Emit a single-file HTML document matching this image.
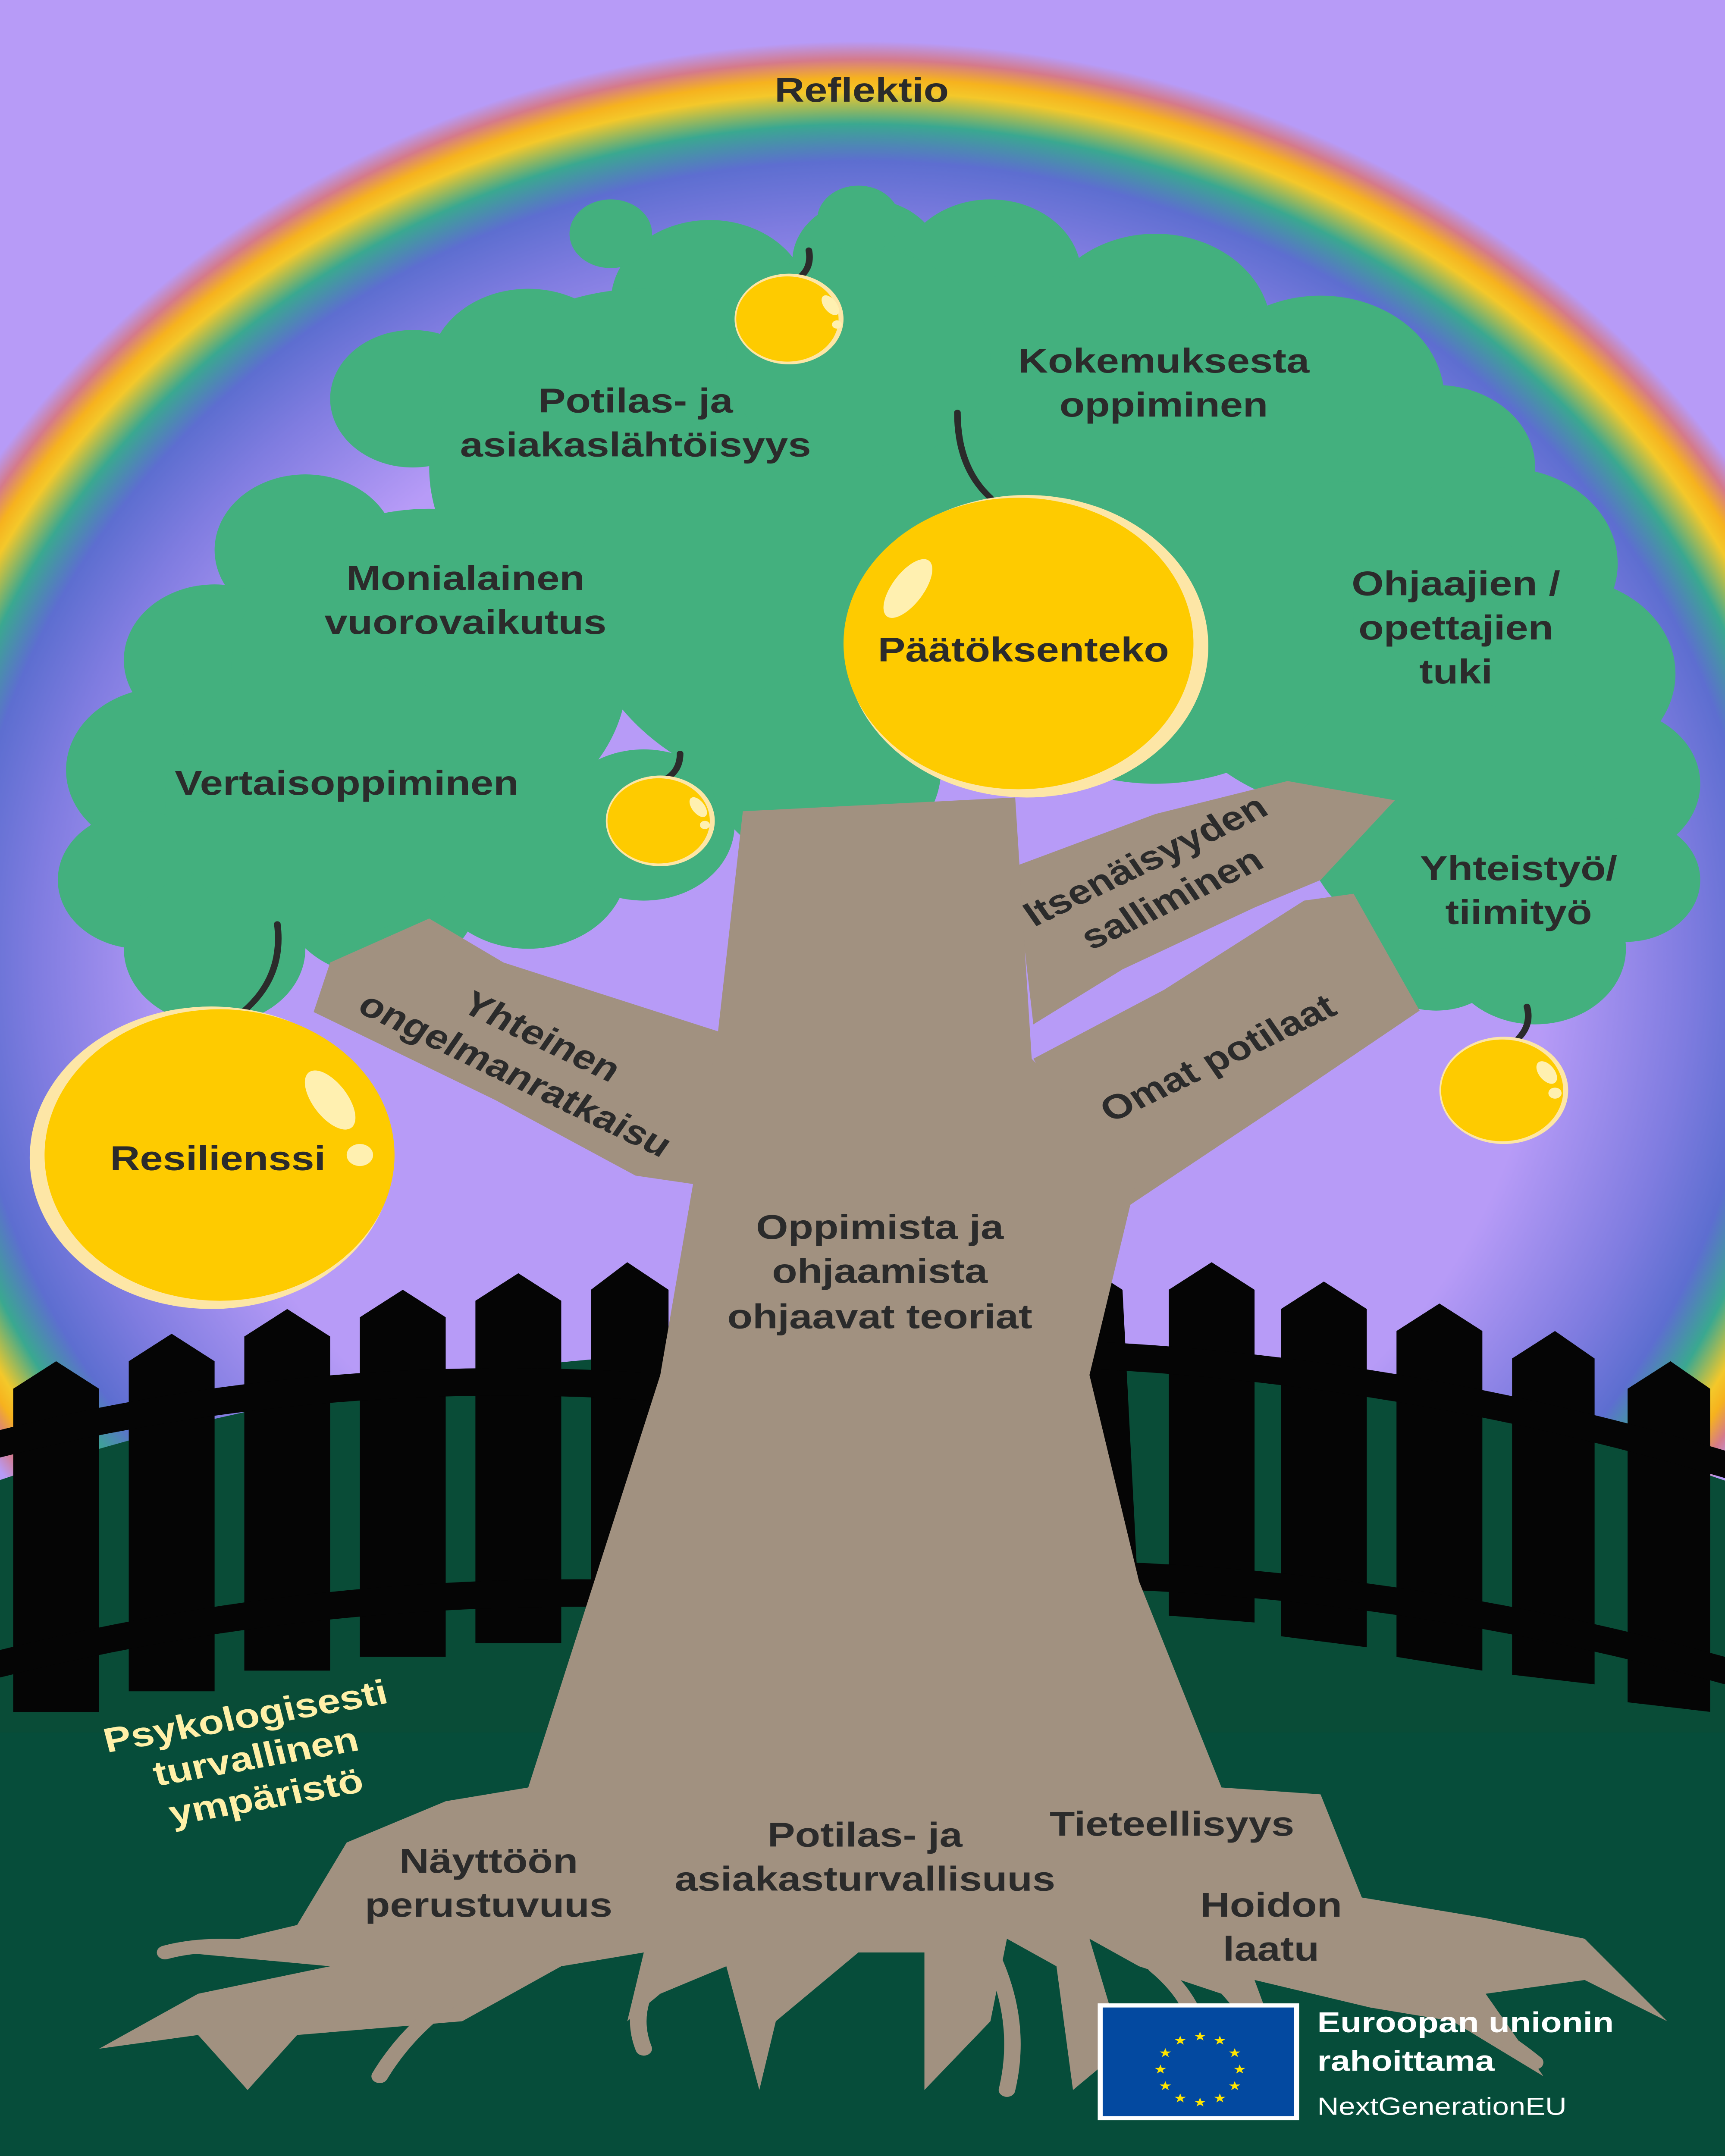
<!DOCTYPE html>
<html><head><meta charset="utf-8"><style>
html,body{margin:0;padding:0;background:#b79bf7;overflow:hidden;width:100%;height:100%}
svg{display:block;position:absolute;left:0;top:0;width:100vw;height:100vh}
text{font-family:"Liberation Sans",sans-serif;font-weight:bold;fill:#2b2b2b}
</style></head><body>
<svg viewBox="0 0 1045 1568" preserveAspectRatio="none" xmlns="http://www.w3.org/2000/svg">
<defs>
<radialGradient id="rb" gradientUnits="userSpaceOnUse" cx="522" cy="700" r="670" gradientTransform="translate(522 700) scale(0.934 1) translate(-522 -700)">
<stop offset="0" stop-color="#b79bf7"/>
<stop offset="0.66" stop-color="#b79bf7"/>
<stop offset="0.80" stop-color="#7f7ce0"/>
<stop offset="0.87" stop-color="#5d6ed0"/>
<stop offset="0.91" stop-color="#3aa890"/>
<stop offset="0.945" stop-color="#f4c82a"/>
<stop offset="0.96" stop-color="#f6b21e"/>
<stop offset="0.98" stop-color="#d57a8a"/>
<stop offset="1" stop-color="#b79bf7"/>
</radialGradient>
</defs>
<rect width="1045" height="1568" fill="url(#rb)"/>
<ellipse cx="522" cy="1500" rx="900" ry="520" fill="#094c37"/>
<rect x="0" y="1260" width="1045" height="308" fill="#064d3a"/>
<g fill="#050505">
<path d="M8,1010 L34,990 L60,1010 L60,1245 L8,1245Z"/>
<path d="M78,990 L104,970 L130,990 L130,1230 L78,1230Z"/>
<path d="M148,972 L174,952 L200,972 L200,1215 L148,1215Z"/>
<path d="M218,958 L244,938 L270,958 L270,1205 L218,1205Z"/>
<path d="M288,946 L314,926 L340,946 L340,1195 L288,1195Z"/>
<path d="M358,938 L380,918 L405,938 L405,1190 L358,1190Z"/>
<path d="M650,915 L680,938 L690,1170 L650,1160Z"/>
<path d="M708,938 L734,918 L760,938 L760,1180 L708,1175Z"/>
<path d="M776,952 L802,932 L828,952 L828,1198 L776,1190Z"/>
<path d="M846,968 L872,948 L898,968 L898,1215 L846,1205Z"/>
<path d="M916,988 L942,968 L966,988 L966,1225 L916,1218Z"/>
<path d="M986,1010 L1012,990 L1036,1010 L1036,1245 L986,1238Z"/>
<path d="M0,1040 Q200,980 410,1000 L410,1020 Q200,1000 0,1060Z"/>
<path d="M0,1200 Q200,1140 410,1150 L410,1170 Q200,1160 0,1220Z"/>
<path d="M650,975 Q850,985 1045,1055 L1045,1075 Q850,1005 650,995Z"/>
<path d="M650,1135 Q850,1140 1045,1205 L1045,1225 Q850,1160 650,1155Z"/>
</g>
<g fill="#43b07e">
<circle cx="250" cy="290" r="50"/><circle cx="320" cy="270" r="60"/><circle cx="430" cy="220" r="60"/>
<circle cx="525" cy="190" r="45"/><circle cx="600" cy="200" r="55"/><circle cx="700" cy="240" r="70"/>
<circle cx="800" cy="290" r="75"/><circle cx="870" cy="340" r="60"/><circle cx="910" cy="410" r="70"/>
<circle cx="945" cy="490" r="70"/><circle cx="975" cy="570" r="55"/><circle cx="985" cy="640" r="45"/>
<circle cx="930" cy="690" r="55"/><circle cx="870" cy="690" r="45"/><circle cx="185" cy="400" r="55"/>
<circle cx="130" cy="480" r="55"/><circle cx="100" cy="560" r="60"/><circle cx="85" cy="640" r="50"/>
<circle cx="130" cy="690" r="55"/><circle cx="230" cy="650" r="60"/><circle cx="320" cy="630" r="60"/>
<circle cx="390" cy="600" r="55"/><circle cx="390" cy="340" r="130"/><circle cx="620" cy="340" r="140"/>
<circle cx="260" cy="490" r="120"/><circle cx="820" cy="470" r="120"/><circle cx="500" cy="430" r="150"/>
<circle cx="700" cy="450" r="120"/><circle cx="200" cy="580" r="100"/><circle cx="880" cy="600" r="90"/>
<circle cx="500" cy="560" r="70"/><circle cx="370" cy="170" r="25"/><circle cx="520" cy="160" r="25"/>
<circle cx="520" cy="260" r="80"/>
</g>
<g fill="#a19180">
<path d="M200,700 L260,668 L305,700 L440,752 L425,862 L385,855 L300,800 L190,736Z"/>
<path d="M615,630 L700,592 L780,568 L845,582 L800,640 L760,660 L680,705 L626,745Z"/>
<path d="M626,770 L705,720 L790,655 L820,650 L860,735 L780,800 L680,880Z"/>
<path d="M450,590 L615,580 L625,770 L690,850 L660,1000 L690,1150 L740,1300 L800,1305 L825,1380 L900,1395 L960,1410 L1010,1470 L960,1440 L900,1450 L935,1510 L880,1470 L830,1460 L760,1440 L780,1505 L740,1450 L690,1430 L660,1410 L680,1490 L650,1520 L640,1430 L610,1410 L600,1470 L560,1520 L560,1420 L520,1420 L470,1470 L460,1520 L440,1430 L400,1450 L380,1470 L390,1420 L340,1430 L280,1470 L180,1480 L150,1520 L120,1480 L60,1490 L120,1450 L200,1430 L110,1420 L180,1400 L210,1340 L270,1310 L320,1300 L360,1150 L400,1000 L420,860 L435,750Z"/>
</g>
<g fill="none" stroke="#a19180" stroke-width="10" stroke-linecap="round">
<path d="M330,1420 Q260,1450 230,1510"/><path d="M400,1430 Q380,1460 390,1490"/>
<path d="M600,1420 Q620,1470 610,1520"/><path d="M700,1430 Q740,1470 720,1520"/>
<path d="M840,1440 Q900,1470 930,1500"/><path d="M180,1420 Q130,1410 100,1420"/>
</g>
<g fill="none" stroke="#2b2b2b" stroke-width="4" stroke-linecap="round">
<path d="M580,300 Q580,340 600,362"/><path d="M168,672 Q172,710 148,735"/>
<path d="M490,182 Q492,195 484,202"/><path d="M412,548 Q412,560 404,566"/><path d="M925,732 Q928,745 920,755"/>
</g>
<circle cx="622" cy="470" r="110" fill="#fde6a6"/><circle cx="617" cy="468" r="106" fill="#fecb00"/>
<circle cx="128" cy="842" r="110" fill="#fde6a6"/><circle cx="133" cy="840" r="106" fill="#fecb00"/>
<circle cx="478" cy="232" r="33" fill="#fde6a6"/><circle cx="477" cy="232" r="31" fill="#fecb00"/>
<circle cx="400" cy="597" r="33" fill="#fde6a6"/><circle cx="399" cy="597" r="31" fill="#fecb00"/>
<circle cx="911" cy="793" r="39" fill="#fde6a6"/><circle cx="910" cy="793" r="37" fill="#fecb00"/>
<g fill="#fff0b0">
<ellipse cx="550" cy="428" rx="10" ry="24" transform="rotate(30 550 428)"/>
<ellipse cx="200" cy="800" rx="11" ry="24" transform="rotate(-30 200 800)"/><circle cx="218" cy="840" r="8"/>
<ellipse cx="503" cy="222" rx="4" ry="8" transform="rotate(-30 503 222)"/><circle cx="507" cy="236" r="3"/>
<ellipse cx="423" cy="587" rx="4" ry="8" transform="rotate(-30 423 587)"/><circle cx="427" cy="600" r="3"/>
<ellipse cx="937" cy="780" rx="5" ry="9" transform="rotate(-30 937 780)"/><circle cx="942" cy="795" r="4"/>
</g>
<g font-size="25" text-anchor="middle">
<text x="522" y="74">Reflektio</text>
<text x="385" y="300">Potilas- ja</text><text x="385" y="332">asiakaslähtöisyys</text>
<text x="705" y="271">Kokemuksesta</text><text x="705" y="303">oppiminen</text>
<text x="282" y="429">Monialainen</text><text x="282" y="461">vuorovaikutus</text>
<text x="620" y="481">Päätöksenteko</text>
<text x="882" y="433">Ohjaajien /</text><text x="882" y="465">opettajien</text><text x="882" y="497">tuki</text>
<text x="210" y="578">Vertaisoppiminen</text>
<text x="920" y="640">Yhteistyö/</text><text x="920" y="672">tiimityö</text>
<text x="132" y="851">Resilienssi</text>
<text x="533" y="901">Oppimista ja</text><text x="533" y="933">ohjaamista</text><text x="533" y="966">ohjaavat teoriat</text>
<text x="296" y="1362">Näyttöön</text><text x="296" y="1394">perustuvuus</text>
<text x="524" y="1343">Potilas- ja</text><text x="524" y="1375">asiakasturvallisuus</text>
<text x="710" y="1335">Tieteellisyys</text>
<text x="770" y="1394">Hoidon</text><text x="770" y="1426">laatu</text>
<g transform="translate(320,768) rotate(30)"><text x="0" y="-8">Yhteinen</text><text x="0" y="24">ongelmanratkaisu</text></g>
<g transform="translate(702,640) rotate(-30)"><text x="0" y="-8">Itsenäisyyden</text><text x="0" y="24">salliminen</text></g>
<g transform="translate(738,770) rotate(-30)"><text x="0" y="8">Omat potilaat</text></g>
<g transform="translate(155,1278) rotate(-12)"><text x="0" y="-22" style="fill:#fff0a8">Psykologisesti</text><text x="0" y="8" style="fill:#fff0a8">turvallinen</text><text x="0" y="38" style="fill:#fff0a8">ympäristö</text></g>
</g>
<rect x="665" y="1457" width="122" height="85" fill="#fff"/>
<rect x="668" y="1460" width="116" height="79" fill="#0349a0"/>
<g font-size="9" text-anchor="middle">
<text x="727" y="1484" style="fill:#ffe500;font-weight:normal">★</text><text x="739" y="1487" style="fill:#ffe500;font-weight:normal">★</text><text x="715" y="1487" style="fill:#ffe500;font-weight:normal">★</text>
<text x="706" y="1496" style="fill:#ffe500;font-weight:normal">★</text><text x="748" y="1496" style="fill:#ffe500;font-weight:normal">★</text>
<text x="703" y="1508" style="fill:#ffe500;font-weight:normal">★</text><text x="751" y="1508" style="fill:#ffe500;font-weight:normal">★</text>
<text x="706" y="1520" style="fill:#ffe500;font-weight:normal">★</text><text x="748" y="1520" style="fill:#ffe500;font-weight:normal">★</text>
<text x="715" y="1529" style="fill:#ffe500;font-weight:normal">★</text><text x="739" y="1529" style="fill:#ffe500;font-weight:normal">★</text><text x="727" y="1532" style="fill:#ffe500;font-weight:normal">★</text>
</g>
<text x="798" y="1478" font-size="21" style="fill:#fff">Euroopan unionin</text>
<text x="798" y="1506" font-size="21" style="fill:#fff">rahoittama</text>
<text x="798" y="1538" font-size="18" style="fill:#fff;font-weight:normal">NextGenerationEU</text>
</svg>
</body></html>
